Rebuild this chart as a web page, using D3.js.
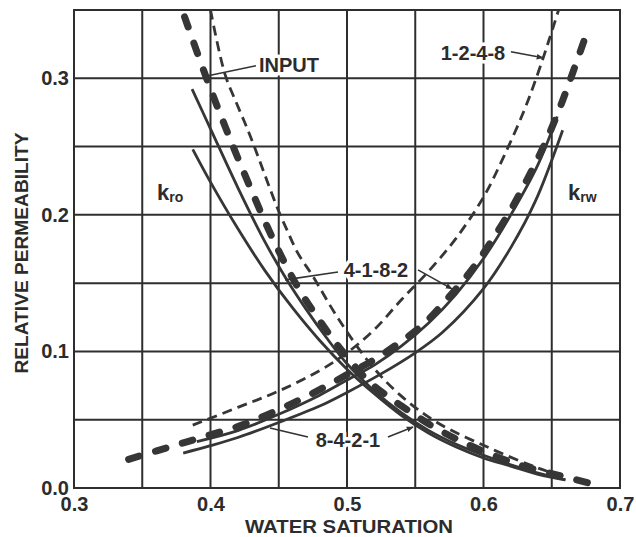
<!DOCTYPE html>
<html>
<head>
<meta charset="utf-8">
<script src="https://cdn.jsdelivr.net/npm/d3@7"></script>
<style>
  body { margin: 0; background: #fff; }
  text { font-family: "Liberation Sans", Arial, sans-serif; font-weight: bold; fill: #2c2c2c; }
  .grid line { stroke: #2e2e2e; stroke-width: 2; }
  .curve { fill: none; stroke: #363636; }
  .lbl { paint-order: stroke; stroke: #fff; stroke-width: 7px; stroke-linejoin: round; }
  .leader { stroke: #333; stroke-width: 1.6; fill: none; }
</style>
</head>
<body>
<svg width="636" height="537"></svg>
<script>
const xTicks = [0.3, 0.4, 0.5, 0.6, 0.7];
const yTicks = [0.0, 0.1, 0.2, 0.3];
const xGrid = [0.3, 0.35, 0.4, 0.45, 0.5, 0.55, 0.6, 0.65, 0.7];
const yGrid = [0, 0.05, 0.1, 0.15, 0.2, 0.25, 0.3, 0.35];

// [water saturation, relative permeability]
const kroInput = [[0.381,0.345],[0.396,0.303],[0.411,0.264],[0.427,0.225],[0.445,0.184],[0.464,0.147],[0.4875,0.112],[0.5,0.096],[0.515,0.079],[0.53,0.067],[0.546,0.056],[0.563,0.045],[0.586,0.033],[0.612,0.022],[0.629,0.016],[0.656,0.009],[0.68,0.003]];
const kro1248 = [[0.400,0.35],[0.4106,0.303],[0.4194,0.281],[0.427,0.263],[0.434,0.245],[0.4414,0.225],[0.449,0.205],[0.456,0.189],[0.464,0.172],[0.475,0.155],[0.493,0.125],[0.517,0.091],[0.539,0.068],[0.566,0.048],[0.605,0.029],[0.639,0.015],[0.662,0.007]];
const kro4182 = [[0.3865,0.292],[0.40,0.263],[0.42,0.220],[0.44,0.180],[0.455,0.154],[0.47,0.131],[0.485,0.110],[0.50,0.091],[0.52,0.071],[0.54,0.055],[0.56,0.042],[0.58,0.032],[0.60,0.024],[0.62,0.017],[0.64,0.011],[0.66,0.006]];
const kro8421 = [[0.387,0.248],[0.40,0.224],[0.42,0.190],[0.44,0.159],[0.46,0.132],[0.48,0.108],[0.50,0.087],[0.52,0.069],[0.54,0.053],[0.56,0.040],[0.58,0.030],[0.60,0.022],[0.62,0.016],[0.64,0.010],[0.66,0.006]];

const krwInput = [[0.34,0.021],[0.36,0.027],[0.38,0.033],[0.40,0.039],[0.42,0.045],[0.44,0.053],[0.46,0.062],[0.48,0.072],[0.50,0.083],[0.52,0.094],[0.535,0.104],[0.555,0.119],[0.573,0.138],[0.59,0.158],[0.604,0.178],[0.619,0.202],[0.632,0.226],[0.644,0.250],[0.655,0.276],[0.665,0.303],[0.677,0.337]];
const krw1248 = [[0.387,0.046],[0.42,0.059],[0.45,0.071],[0.48,0.086],[0.50,0.099],[0.52,0.116],[0.54,0.138],[0.56,0.159],[0.58,0.183],[0.60,0.213],[0.615,0.243],[0.63,0.277],[0.64,0.304],[0.648,0.328],[0.655,0.35]];
const krw4182 = [[0.39,0.034],[0.42,0.042],[0.45,0.054],[0.48,0.068],[0.50,0.079],[0.52,0.090],[0.54,0.104],[0.56,0.121],[0.58,0.142],[0.60,0.168],[0.62,0.200],[0.64,0.237],[0.654,0.272]];
const krw8421 = [[0.38,0.0256],[0.40,0.031],[0.42,0.037],[0.45,0.048],[0.48,0.060],[0.50,0.070],[0.524,0.083],[0.55,0.099],[0.57,0.114],[0.60,0.146],[0.62,0.176],[0.638,0.210],[0.658,0.262]];

const curveLabels = [
  { text: "INPUT", sw: 0.4575, kr: 0.3048 },
  { text: "1-2-4-8", sw: 0.5923, kr: 0.3136 },
  { text: "4-1-8-2", sw: 0.5212, kr: 0.1546 },
  { text: "8-4-2-1", sw: 0.5007, kr: 0.030 }
];
const leaders = [
  { from: [0.4333, 0.3092], to: [0.3982, 0.3018], arrow: false },
  { from: [0.6201, 0.3194], to: [0.6436, 0.315], arrow: true },
  { from: [0.4934, 0.1582], to: [0.4546, 0.1524], arrow: false },
  { from: [0.552, 0.1597], to: [0.5769, 0.1458], arrow: true },
  { from: [0.4714, 0.0374], to: [0.4436, 0.044], arrow: false },
  { from: [0.530, 0.0374], to: [0.5484, 0.0447], arrow: true }
];

const svg = d3.select("svg");
const x = d3.scaleLinear().domain([0.3, 0.7]).range([74, 620]);
const y = d3.scaleLinear().domain([0, 0.35]).range([488, 10]);

svg.append("rect").attr("width", 636).attr("height", 537).attr("fill", "#fff");

svg.append("defs").append("marker")
  .attr("id", "arr")
  .attr("viewBox", "0 0 10 10")
  .attr("refX", 9).attr("refY", 5)
  .attr("markerWidth", 7).attr("markerHeight", 7)
  .attr("markerUnits", "userSpaceOnUse")
  .attr("orient", "auto")
  .append("path").attr("d", "M0,1L10,5L0,9z").attr("fill", "#333");

svg.append("clipPath").attr("id", "plot")
  .append("rect")
  .attr("x", x(0.3)).attr("y", y(0.35))
  .attr("width", x(0.7) - x(0.3)).attr("height", y(0) - y(0.35));

// grid
svg.append("g").attr("class", "grid")
  .selectAll("line.v").data(xGrid).enter().append("line")
  .attr("x1", d => x(d)).attr("x2", d => x(d))
  .attr("y1", y(0.35) - 1).attr("y2", y(0) + 1);
svg.append("g").attr("class", "grid")
  .selectAll("line.h").data(yGrid).enter().append("line")
  .attr("x1", x(0.3) - 1).attr("x2", x(0.7) + 1)
  .attr("y1", d => y(d)).attr("y2", d => y(d));

// axes (labels only)
const xAxis = svg.append("g")
  .attr("transform", `translate(0,${y(0)})`)
  .call(d3.axisBottom(x).tickValues(xTicks).tickSize(0).tickPadding(9).tickFormat(d3.format(".1f")));
const yAxis = svg.append("g")
  .attr("transform", `translate(${x(0.3)},0)`)
  .call(d3.axisLeft(y).tickValues(yTicks).tickSize(0).tickPadding(5).tickFormat(d3.format(".1f")));
[xAxis, yAxis].forEach(a => {
  a.select(".domain").remove();
  a.selectAll("text").attr("font-size", 20).attr("fill", "#2c2c2c")
    .style("font-family", "'Liberation Sans', Arial, sans-serif").style("font-weight", "bold");
});

svg.append("text")
  .attr("x", 349).attr("y", 533)
  .attr("text-anchor", "middle")
  .attr("font-size", 18)
  .attr("textLength", 208).attr("lengthAdjust", "spacingAndGlyphs")
  .text("WATER SATURATION");

svg.append("text")
  .attr("transform", "translate(28,253) rotate(-90)")
  .attr("text-anchor", "middle")
  .attr("font-size", 19)
  .attr("textLength", 241).attr("lengthAdjust", "spacingAndGlyphs")
  .text("RELATIVE PERMEABILITY");

// curves
const line = d3.line()
  .x(d => x(d[0]))
  .y(d => y(d[1]))
  .curve(d3.curveCatmullRom.alpha(0.5));

const series = [
  { data: kro4182, style: "solid" },
  { data: kro8421, style: "solid" },
  { data: krw4182, style: "solid" },
  { data: krw8421, style: "solid" },
  { data: kro1248, style: "thin" },
  { data: krw1248, style: "thin" },
  { data: kroInput, style: "thick" },
  { data: krwInput, style: "thick" }
];

svg.append("g").attr("clip-path", "url(#plot)")
  .selectAll("path").data(series).enter().append("path")
  .attr("class", "curve")
  .attr("d", d => line(d.data))
  .attr("stroke-width", d => d.style === "thick" ? 7 : 2.8)
  .attr("stroke-linecap", d => d.style === "thick" ? "round" : "butt")
  .attr("stroke-dasharray", d => d.style === "thick" ? "11,17" : d.style === "thin" ? "10,6" : null);

// annotations
svg.selectAll("line.leader").data(leaders).enter().append("line")
  .attr("class", "leader")
  .attr("x1", d => x(d.from[0])).attr("y1", d => y(d.from[1]))
  .attr("x2", d => x(d.to[0])).attr("y2", d => y(d.to[1]))
  .attr("marker-end", d => d.arrow ? "url(#arr)" : null);

svg.selectAll("text.lbl").data(curveLabels).enter().append("text")
  .attr("class", "lbl")
  .attr("x", d => x(d.sw)).attr("y", d => y(d.kr))
  .attr("text-anchor", "middle")
  .attr("font-size", 20)
  .text(d => d.text);

const kLabels = [
  { sub: "ro", sw: 0.3608, kr: 0.211 },
  { sub: "rw", sw: 0.6619, kr: 0.211 }
];
const k = svg.selectAll("text.k").data(kLabels).enter().append("text")
  .attr("class", "k")
  .attr("x", d => x(d.sw)).attr("y", d => y(d.kr))
  .attr("font-size", 22);
k.append("tspan").text("k");
k.append("tspan").attr("font-size", 14).attr("dy", 2).text(d => d.sub);
</script>
</body>
</html>
